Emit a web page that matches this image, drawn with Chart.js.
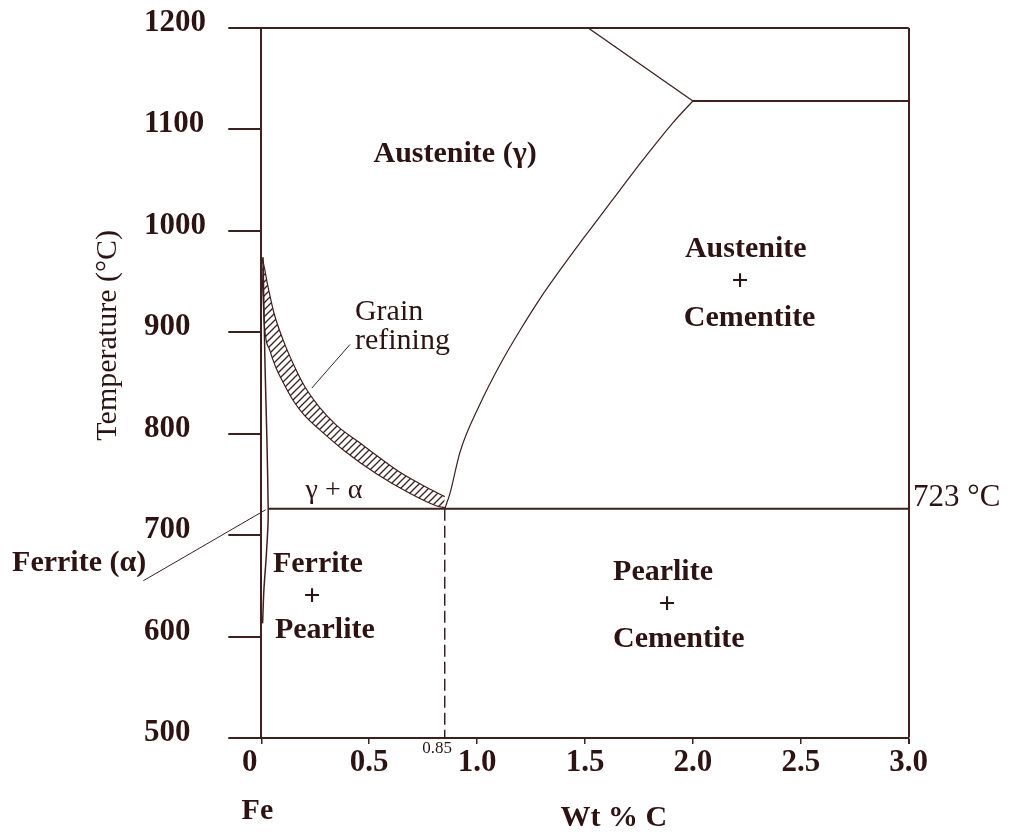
<!DOCTYPE html>
<html>
<head>
<meta charset="utf-8">
<script src="https://cdn.jsdelivr.net/npm/chart.js@4.4.1/dist/chart.umd.min.js"></script>
<style>
  html, body { margin: 0; padding: 0; background: #ffffff; overflow: hidden; }
  #wrap { width: 1010px; height: 832px; position: relative; }
</style>
</head>
<body>
<div id="wrap"><canvas id="c"></canvas></div>
<script>
// ---------------- DATA (wt % C , temperature °C) ----------------
const xTickValues = [0, 0.5, 1.0, 1.5, 2.0, 2.5, 3.0];
const yTickValues = [500, 600, 700, 800, 900, 1000, 1100, 1200];

// eutectoid isotherm (labelled 723 °C)
const eutectoidX = [0.032, 3.0];
const eutectoidT = [726, 726];

// eutectic-level isotherm at right
const eutecticX = [2.0, 3.0];
const eutecticT = [1128, 1128];

// upper boundary line (from top edge down to 2.0 %)
const upperX = [1.515, 2.0];
const upperT = [1200, 1128];

// Acm line (austenite / austenite + cementite)
const acmX = [0.85, 0.874, 0.921, 1.013, 1.106, 1.199, 1.291, 1.383, 1.476, 1.569, 1.661, 1.754, 1.832, 1.909, 2.0];
const acmT = [726, 741, 782, 829, 868, 902, 933, 961, 988, 1014, 1040, 1066, 1087, 1107, 1128];

// ferrite boundary close to 0 % C
const ferriteX = [0.008, 0.017, 0.026, 0.032, 0.031, 0.022, 0.012, 0.006];
const ferriteT = [974, 870, 794, 726, 710, 676, 646, 613];

// grain-refining band: outer (upper) edge and inner (lower) edge
const bandOuterX = [0.0, 0.01, 0.03, 0.06, 0.10, 0.15, 0.20, 0.27, 0.35, 0.45, 0.55, 0.65, 0.75, 0.85];
const bandOuterT = [975, 968, 946, 918, 893, 868, 847, 826, 808, 792, 776, 761, 749, 738];
const bandInnerX = [0.0, 0.005, 0.015, 0.04, 0.07, 0.10, 0.15, 0.20, 0.27, 0.38, 0.53, 0.69, 0.81, 0.85];
const bandInnerT = [975, 950, 905, 882, 864, 851, 832, 818, 804, 784, 761, 741, 729, 727];

// eutectoid composition (dashed)
const eutectoidCompX = [0.85, 0.85];
const eutectoidCompT = [726, 500];

// leader lines
const grainLeaderX = [0.234, 0.411];
const grainLeaderT = [845, 888];
const ferriteLeaderX = [-0.547, 0.020];
const ferriteLeaderT = [655, 725];

// ---------------- TEXT LABELS (anchored in data units) ----------------
const labelTexts = ['Austenite (γ)', 'Austenite', '+', 'Cementite', 'Grain', 'refining', 'γ + α',
  'Ferrite', '+', 'Pearlite', 'Pearlite', '+', 'Cementite', '723 °C', 'Ferrite (α)', '0.85', 'Fe', 'Wt % C', 'Temperature (°C)'];
const labelX = [0.898, 1.963, 2.218, 1.958, 0.434, 0.434, 0.337, 0.054, 0.235, 0.063, 1.630, 1.880, 1.630, 3.020, -1.155, 0.884, -0.018, 1.634, -0.710];
const labelT = [1076, 982, 949, 914, 920, 891, 744, 671, 639, 606, 663, 631, 597, 737, 672, 490, 428, 421, 897];

// ---------------- STYLES ----------------
const LINE = '#3e1f1f';
const TEXT = '#2e1313';
const FONT = '"Liberation Serif", "Times New Roman", serif';
// per-label style: [align, weight, size, rotated]
const labelStyle = [
  ['center', 'bold', 30, 0], ['left', 'bold', 30, 0], ['center', 'bold', 30, 0], ['left', 'bold', 30, 0],
  ['left', 'normal', 30, 0], ['left', 'normal', 30, 0], ['center', 'normal', 28, 0],
  ['left', 'bold', 30, 0], ['center', 'bold', 30, 0], ['left', 'bold', 30, 0],
  ['left', 'bold', 30, 0], ['center', 'bold', 30, 0], ['left', 'bold', 30, 0],
  ['left', 'normal', 31, 0], ['left', 'bold', 30, 0], ['right', 'normal', 17, 0],
  ['center', 'bold', 30, 0], ['center', 'bold', 30, 0], ['center', 'normal', 30, 1]
];

function pts(xs, ts) { return xs.map((v, i) => ({ x: v, y: ts[i] })); }

function hatchPattern() {
  const s = 7;
  const c = document.createElement('canvas');
  c.width = s; c.height = s;
  const g = c.getContext('2d');
  g.strokeStyle = LINE;
  g.lineWidth = 1.3;
  g.beginPath();
  g.moveTo(0, s); g.lineTo(s, 0);
  g.moveTo(-1, 1); g.lineTo(1, -1);
  g.moveTo(s - 1, s + 1); g.lineTo(s + 1, s - 1);
  g.stroke();
  return g.createPattern(c, 'repeat');
}

function lineDs(data, extra) {
  return Object.assign({
    data: data, borderColor: LINE, borderWidth: 1.3, pointRadius: 0,
    pointHoverRadius: 0, fill: false, tension: 0
  }, extra || {});
}

const labelPlugin = {
  id: 'phaseLabels',
  afterDraw(chart) {
    const { ctx, scales: { x, y } } = chart;
    ctx.save();
    ctx.fillStyle = TEXT;
    ctx.textBaseline = 'middle';
    labelTexts.forEach((t, i) => {
      const [align, weight, size, rot] = labelStyle[i];
      ctx.font = `${weight} ${size}px ${FONT}`;
      ctx.textAlign = align;
      const px = x.getPixelForValue(labelX[i]);
      const py = y.getPixelForValue(labelT[i]);
      if (rot) {
        ctx.save();
        ctx.translate(px, py);
        ctx.rotate(-Math.PI / 2);
        ctx.fillText(t, 0, 0);
        ctx.restore();
      } else {
        ctx.fillText(t, px, py);
      }
    });
    ctx.restore();
  }
};

const datasets = [
  lineDs(pts(bandOuterX, bandOuterT), { borderWidth: 1.2, cubicInterpolationMode: 'monotone' }),
  lineDs(pts(bandInnerX, bandInnerT), { borderWidth: 1.2, cubicInterpolationMode: 'monotone', fill: '-1', backgroundColor: hatchPattern() }),
  lineDs(pts(eutectoidX, eutectoidT), { borderWidth: 2 }),
  lineDs(pts(eutecticX, eutecticT), { borderWidth: 2 }),
  lineDs(pts(upperX, upperT), { borderWidth: 1.3 }),
  lineDs(pts(acmX, acmT), { borderWidth: 1.2, cubicInterpolationMode: 'monotone' }),
  lineDs(pts(ferriteX, ferriteT), { borderWidth: 1.5, tension: 0.3 }),
  lineDs(pts(eutectoidCompX, eutectoidCompT), { borderWidth: 1.5, borderDash: [12, 5] }),
  lineDs(pts(grainLeaderX, grainLeaderT), { borderWidth: 1 }),
  lineDs(pts(ferriteLeaderX, ferriteLeaderT), { borderWidth: 1, clip: false })
];

new Chart(document.getElementById('c'), {
  type: 'line',
  data: { datasets: datasets },
  plugins: [labelPlugin],
  options: {
    responsive: true,
    maintainAspectRatio: false,
    animation: false,
    events: [],
    layout: { padding: { left: 144, top: 28, right: 101.3, bottom: 0 } },
    plugins: { legend: { display: false }, tooltip: { enabled: false } },
    scales: {
      x: {
        type: 'linear',
        min: 0, max: 3,
        afterBuildTicks: (s) => { s.ticks = xTickValues.map(v => ({ value: v })); },
        afterFit: (s) => { s.height = 94; s.paddingLeft = 0; s.paddingRight = 0; },
        border: { display: true, color: LINE, width: 2 },
        grid: {
          drawOnChartArea: true,
          color: (c) => (c.tick && c.tick.value === 3) ? LINE : 'rgba(0,0,0,0)',
          lineWidth: (c) => (c.tick && c.tick.value === 3) ? 2 : 1.5,
          tickColor: LINE,
          tickLength: 6
        },
        ticks: {
          autoSkip: false, maxRotation: 0, padding: 0,
          color: TEXT,
          font: { family: FONT, size: 31, weight: 'bold' },
          callback: (v) => v === 0 ? '0\u00a0\u00a0\u00a0' : Number(v).toFixed(1)
        }
      },
      y: {
        type: 'linear',
        min: 500, max: 1200,
        afterBuildTicks: (s) => { s.ticks = yTickValues.map(v => ({ value: v })); },
        afterFit: (s) => { s.width = 117.3; s.paddingTop = 0; s.paddingBottom = 0; },
        border: { display: true, color: LINE, width: 2 },
        grid: {
          drawOnChartArea: true,
          color: (c) => (c.tick && c.tick.value === 1200) ? LINE : 'rgba(0,0,0,0)',
          lineWidth: 2,
          tickColor: LINE,
          tickLength: 33
        },
        ticks: {
          crossAlign: 'far',
          padding: 22,
          labelOffset: -5,
          color: TEXT,
          font: { family: FONT, size: 31, weight: 'bold' },
          callback: (v) => String(v)
        }
      }
    }
  }
});
</script>
</body>
</html>
